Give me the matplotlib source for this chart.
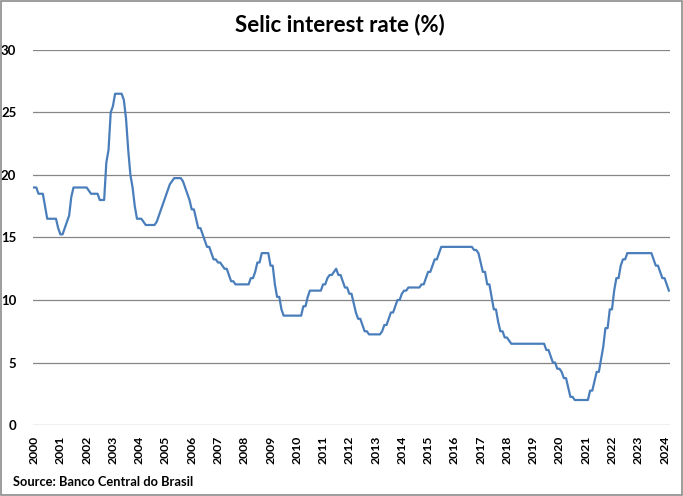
import numpy as np
from matplotlib import pyplot as plt
from matplotlib import font_manager
from matplotlib.patches import Rectangle

# monthly Selic target, end of month (%)
selic_2000 = [19.0, 19.0, 18.5, 18.5, 18.5, 17.5, 16.5, 16.5, 16.5, 16.5, 16.5, 15.75]
selic_2001 = [15.25, 15.25, 15.75, 16.25, 16.75, 18.25, 19.0, 19.0, 19.0, 19.0, 19.0, 19.0]
selic_2002 = [19.0, 18.75, 18.5, 18.5, 18.5, 18.5, 18.0, 18.0, 18.0, 21.0, 22.0, 25.0]
selic_2003 = [25.5, 26.5, 26.5, 26.5, 26.5, 26.0, 24.5, 22.0, 20.0, 19.0, 17.5, 16.5]
selic_2004 = [16.5, 16.5, 16.25, 16.0, 16.0, 16.0, 16.0, 16.0, 16.25, 16.75, 17.25, 17.75]
selic_2005 = [18.25, 18.75, 19.25, 19.5, 19.75, 19.75, 19.75, 19.75, 19.5, 19.0, 18.5, 18.0]
selic_2006 = [17.25, 17.25, 16.5, 15.75, 15.75, 15.25, 14.75, 14.25, 14.25, 13.75, 13.25, 13.25]
selic_2007 = [13.0, 13.0, 12.75, 12.5, 12.5, 12.0, 11.5, 11.5, 11.25, 11.25, 11.25, 11.25]
selic_2008 = [11.25, 11.25, 11.25, 11.75, 11.75, 12.25, 13.0, 13.0, 13.75, 13.75, 13.75, 13.75]
selic_2009 = [12.75, 12.75, 11.25, 10.25, 10.25, 9.25, 8.75, 8.75, 8.75, 8.75, 8.75, 8.75]
selic_2010 = [8.75, 8.75, 8.75, 9.5, 9.5, 10.25, 10.75, 10.75, 10.75, 10.75, 10.75, 10.75]
selic_2011 = [11.25, 11.25, 11.75, 12.0, 12.0, 12.25, 12.5, 12.0, 12.0, 11.5, 11.0, 11.0]
selic_2012 = [10.5, 10.5, 9.75, 9.0, 8.5, 8.5, 8.0, 7.5, 7.5, 7.25, 7.25, 7.25]
selic_2013 = [7.25, 7.25, 7.25, 7.5, 8.0, 8.0, 8.5, 9.0, 9.0, 9.5, 10.0, 10.0]
selic_2014 = [10.5, 10.75, 10.75, 11.0, 11.0, 11.0, 11.0, 11.0, 11.0, 11.25, 11.25, 11.75]
selic_2015 = [12.25, 12.25, 12.75, 13.25, 13.25, 13.75, 14.25, 14.25, 14.25, 14.25, 14.25, 14.25]
selic_2016 = [14.25, 14.25, 14.25, 14.25, 14.25, 14.25, 14.25, 14.25, 14.25, 14.0, 14.0, 13.75]
selic_2017 = [13.0, 12.25, 12.25, 11.25, 11.25, 10.25, 9.25, 9.25, 8.25, 7.5, 7.5, 7.0]
selic_2018 = [7.0, 6.75, 6.5, 6.5, 6.5, 6.5, 6.5, 6.5, 6.5, 6.5, 6.5, 6.5]
selic_2019 = [6.5, 6.5, 6.5, 6.5, 6.5, 6.5, 6.0, 6.0, 5.5, 5.0, 5.0, 4.5]
selic_2020 = [4.5, 4.25, 3.75, 3.75, 3.0, 2.25, 2.25, 2.0, 2.0, 2.0, 2.0, 2.0]
selic_2021 = [2.0, 2.0, 2.75, 2.75, 3.5, 4.25, 4.25, 5.25, 6.25, 7.75, 7.75, 9.25]
selic_2022 = [9.25, 10.75, 11.75, 11.75, 12.75, 13.25, 13.25, 13.75, 13.75, 13.75, 13.75, 13.75]
selic_2023 = [13.75, 13.75, 13.75, 13.75, 13.75, 13.75, 13.75, 13.25, 12.75, 12.75, 12.25, 11.75]
selic_2024 = [11.75, 11.25, 10.75]

years = list(range(2000, 2025))

selic = (selic_2000 + selic_2001 + selic_2002 + selic_2003 + selic_2004 + selic_2005
         + selic_2006 + selic_2007 + selic_2008 + selic_2009 + selic_2010 + selic_2011
         + selic_2012 + selic_2013 + selic_2014 + selic_2015 + selic_2016 + selic_2017
         + selic_2018 + selic_2019 + selic_2020 + selic_2021 + selic_2022 + selic_2023
         + selic_2024)


def pick_font(names):
    avail = {f.name for f in font_manager.fontManager.ttflist}
    for n in names:
        if n in avail:
            return n
    return 'DejaVu Sans'


font = pick_font(['Lato', 'Open Sans', 'Liberation Sans'])
plt.rcParams['font.family'] = [font, 'DejaVu Sans']

fig = plt.figure(figsize=(6.83, 4.96), dpi=100)
ax = fig.add_axes([33 / 683, 1 - 425 / 496, 637 / 683, 375 / 496])

x = np.arange(len(selic))
ax.plot(x, selic, color='#4A7EBB', linewidth=1.6, solid_joinstyle='round')

ax.set_ylim(0, 30)
ax.set_xlim(-0.5, len(selic) - 0.5)
ax.set_yticks(range(0, 31, 5))
ax.set_xticks([(y - 2000) * 12 for y in years])
ax.set_xticklabels([str(y) for y in years], rotation=90, fontweight='bold', fontsize=8.8)
for lab in ax.get_yticklabels():
    lab.set_fontweight('bold')
    lab.set_fontsize(9.5)
ax.tick_params(axis='both', length=0)
ax.tick_params(axis='y', pad=12)
ax.tick_params(axis='x', pad=8)
ax.grid(axis='y', color='#868686', linewidth=0.9)
ax.set_axisbelow(True)
for s in ax.spines.values():
    s.set_visible(False)

fig.text(340 / 683, 1 - 25 / 496, 'Selic interest rate (%)', ha='center', va='center',
         fontsize=16, fontweight='bold')
fig.text(13 / 683, 1 - 482 / 496, 'Source: Banco Central do Brasil', ha='left', va='center',
         fontsize=9.3, fontweight='bold')

fig.patches.append(Rectangle((0.001, 0.002), 0.997, 0.996, transform=fig.transFigure,
                             fill=False, edgecolor='#8C8C8C', linewidth=1.2))

fig.savefig('out.png', dpi=100)
